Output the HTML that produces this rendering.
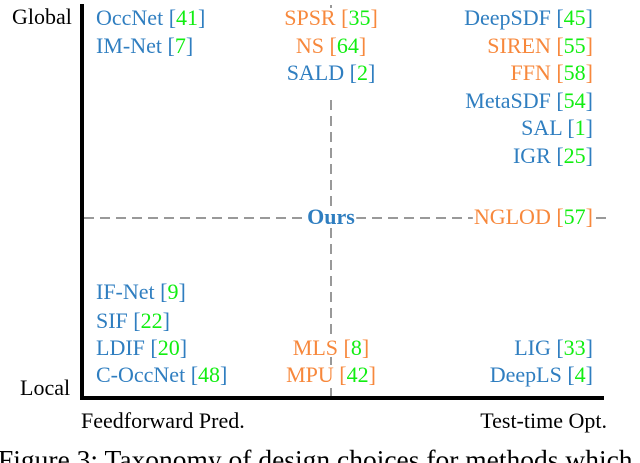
<!DOCTYPE html>
<html><head><meta charset="utf-8"><style>
html,body{margin:0;padding:0;background:#fff;width:640px;height:463px;overflow:hidden}
svg{display:block;font-family:"Liberation Serif",serif}
</style></head><body>
<svg id="c" width="640" height="463">
<line x1="82" y1="4" x2="82" y2="399" stroke="#000" stroke-width="4"/>
<line x1="80" y1="398" x2="604" y2="398" stroke="#000" stroke-width="4"/>
<line x1="84" y1="218" x2="608" y2="218" stroke="#999" stroke-width="2" stroke-dasharray="10,6"/>
<line x1="331" y1="100" x2="331" y2="396" stroke="#999" stroke-width="2" stroke-dasharray="10,6"/>
<line x1="331" y1="5" x2="331" y2="20" stroke="#999" stroke-width="2"/>
<g font-size="22" fill="#000">
<text x="12" y="24">Global</text>
<text x="20" y="395">Local</text>
<text x="81" y="428">Feedforward Pred.</text>
<text x="607" y="428" text-anchor="end">Test-time Opt.</text>
<text x="-2" y="469" font-size="27.5">Figure 3: Taxonomy of design choices for methods which</text>
</g>
<g id="labels" font-size="22"></g>
</svg>
<script>
const names=["OccNet","IM-Net","IF-Net","SIF","LDIF","C-OccNet","SPSR","NS","SALD","MLS","MPU","DeepSDF","SIREN","FFN","MetaSDF","SAL","IGR","NGLOD","LIG","DeepLS"];
const refs=["41","7","9","22","20","48","35","64","2","8","42","45","55","58","54","1","25","57","33","4"];
const cols=["L","L","L","L","L","L","C","C","C","C","C","R","R","R","R","R","R","R","R","R"];
const ys=[25,53,299,328,355,382,25,53,80,355,382,25,53,80,108,135,163,224,355,382];
const kinds=["b","b","b","b","b","b","o","o","b","o","o","b","o","o","b","b","b","o","b","b"];
const colr={b:"#2f7ec0",o:"#f7883c"};
const g=document.getElementById('labels');
const NS="http://www.w3.org/2000/svg";
function addText(x,y,anchor,parts,name,bold){
  const t=document.createElementNS(NS,'text');
  t.setAttribute('x',x);t.setAttribute('y',y);t.setAttribute('text-anchor',anchor);
  if(bold)t.setAttribute('font-weight','bold');
  
  
  parts.forEach(p=>{const s=document.createElementNS(NS,'tspan');s.textContent=p[0];s.setAttribute('fill',p[1]);t.appendChild(s);});
  g.appendChild(t);
  const bb=t.getBBox();
  const r=document.createElementNS(NS,'rect');
  r.setAttribute('x',bb.x-1);r.setAttribute('y',bb.y+3);r.setAttribute('width',bb.width+2);r.setAttribute('height',bb.height-6);r.setAttribute('fill','#fff');
  
  
  g.insertBefore(r,t);
}
names.forEach((n,i)=>{
  const x=cols[i]=="L"?96:cols[i]=="C"?331:593;
  const a=cols[i]=="L"?"start":cols[i]=="C"?"middle":"end";
  addText(x,ys[i],a,[[n+" ",colr[kinds[i]]],["[",colr[kinds[i]]],[refs[i],"#11ee11"],["]",colr[kinds[i]]]],"method-"+n.toLowerCase(),false);
});
addText(331,224,"middle",[["Ours","#2f7ec0"]],"method-ours",true);
</script>
</body></html>
